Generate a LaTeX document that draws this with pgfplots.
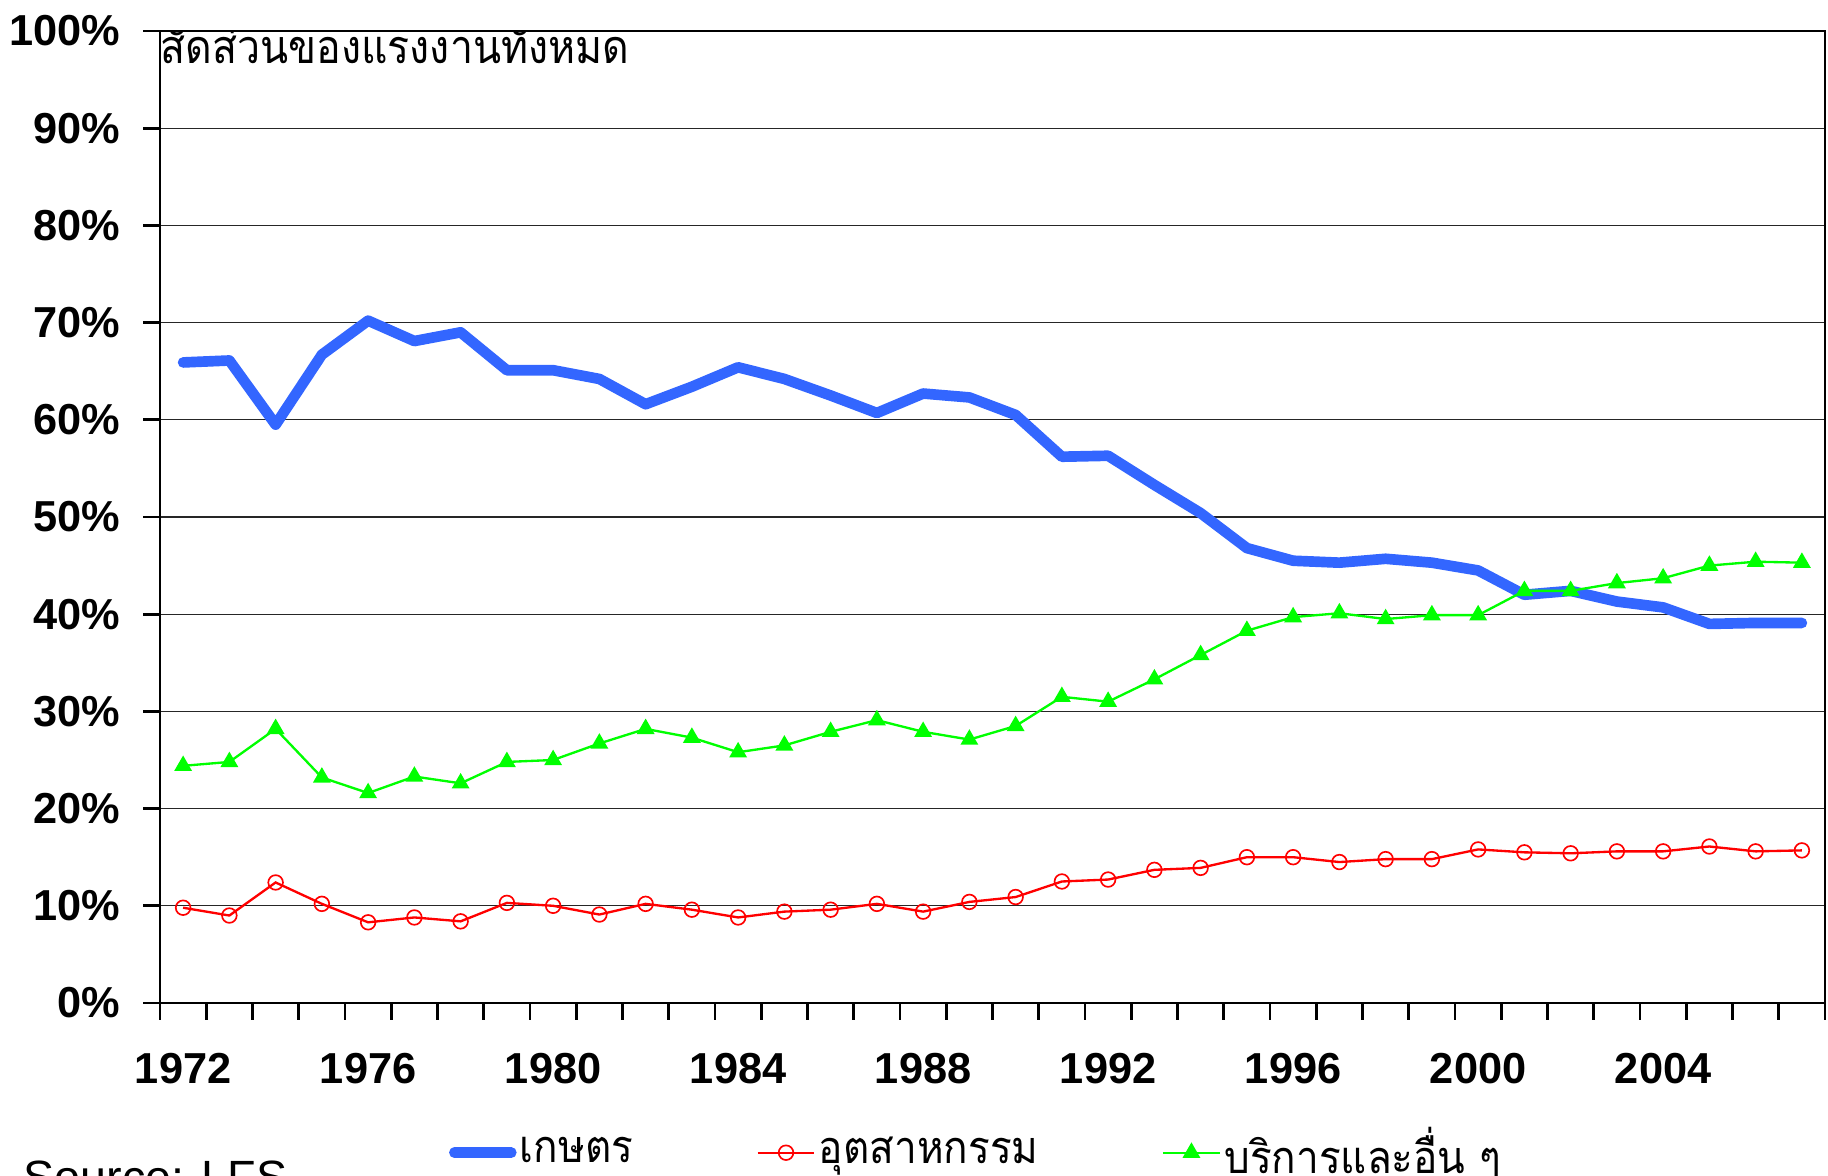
\documentclass[border=0pt]{standalone}
\usepackage{pgfplots}
\pgfplotsset{compat=1.18}
\usepackage{pgfplotstable}
\usepackage{fontspec}
\setmainfont{Liberation Sans}
\newfontfamily\thaifont[Script=Thai]{Loma}
\definecolor{agblue}{RGB}{51,102,255}
\definecolor{indred}{RGB}{255,0,0}
\definecolor{srvgreen}{RGB}{0,255,0}
\newcommand{\thn}[1]{\scalebox{0.9}[1]{#1}}
\pgfplotstableread{
year agr ind srv
1972 65.9 9.8 24.4
1973 66.1 9.0 24.8
1974 59.5 12.4 28.2
1975 66.7 10.2 23.2
1976 70.2 8.3 21.6
1977 68.1 8.8 23.3
1978 69.0 8.4 22.6
1979 65.1 10.3 24.8
1980 65.1 10.0 25.0
1981 64.2 9.1 26.7
1982 61.6 10.2 28.2
1983 63.4 9.6 27.3
1984 65.4 8.8 25.8
1985 64.2 9.4 26.5
1986 62.5 9.6 27.9
1987 60.7 10.2 29.1
1988 62.7 9.4 27.9
1989 62.3 10.4 27.1
1990 60.5 10.9 28.5
1991 56.2 12.5 31.5
1992 56.3 12.7 31.0
1993 53.3 13.7 33.3
1994 50.4 13.9 35.8
1995 46.8 15.0 38.3
1996 45.5 15.0 39.7
1997 45.3 14.5 40.1
1998 45.7 14.8 39.5
1999 45.3 14.8 39.9
2000 44.5 15.8 39.9
2001 42.0 15.5 42.4
2002 42.4 15.4 42.4
2003 41.3 15.6 43.2
2004 40.7 15.6 43.7
2005 39.0 16.1 45.0
2006 39.1 15.6 45.4
2007 39.1 15.7 45.3
}\datatable
\begin{document}
\begin{tikzpicture}
\path[use as bounding box] (-48pt,-51.9pt) rectangle (500.4pt,300.9pt);
\begin{axis}[
  at={(0,0)}, anchor=south west,
  scale only axis, width=499.5pt, height=291.6pt,
  xmin=1971.5, xmax=2007.5, ymin=0, ymax=100,
  xtick={1971.5,1972.5,...,2007.5}, xticklabels={},
  extra x ticks={1972,1976,...,2004},
  extra x tick labels={1972,1976,1980,1984,1988,1992,1996,2000,2004},
  extra x tick style={major tick length=0pt, grid=none,
     xticklabel style={yshift=-11.5pt}},
  ytick={0,10,...,100},
  yticklabel={\pgfmathprintnumber{\tick}\%},
  tick align=outside, tick pos=left,
  major tick length=5pt,
  x tick label style={font=\fontsize{13}{13}\selectfont\bfseries},
  y tick label style={font=\fontsize{13}{13}\selectfont\bfseries, xshift=-3.5pt},
  /pgf/number format/assume math mode=true,
  /pgf/number format/1000 sep={},
  ymajorgrids, major grid style={black!85, line width=0.4pt},
  axis line style={black, line width=0.6pt},
  tick style={black, line width=0.8pt},
  legend columns=3,
  legend style={at={(0.4905,-0.154)}, anchor=center, draw=none, fill=none,
     font=\thaifont\fontsize{13.5}{13.5}\selectfont,
     /tikz/every even column/.append style={column sep=36pt},
     nodes={inner xsep=1pt},
     inner sep=0pt},
  legend cell align=left,
]
\addplot[agblue, line width=3.2pt, line join=round, line cap=round] table[x=year,y=agr]{\datatable};
\addlegendentry{\thn{เกษตร}}
\addplot[indred, line width=0.7pt, mark=o, mark size=2.2pt, mark options={line width=0.5pt}] table[x=year,y=ind]{\datatable};
\addlegendentry{\thn{อุตสาหกรรม}}
\addplot[srvgreen, line width=0.7pt, mark=triangle*, mark size=2.4pt] table[x=year,y=srv]{\datatable};
\addlegendentry{\thn{บริการและอื่น ๆ}}
\node[anchor=base west, inner sep=0pt, yshift=-9.8pt, font=\thaifont\fontsize{14}{14}\selectfont] at (rel axis cs:0,1) {\scalebox{0.88}[1]{สัดส่วนของแรงงานทั้งหมด}};
\end{axis}
\node[anchor=north west, inner sep=0pt, font=\fontsize{14}{14}\selectfont] at (-41.1pt,-47.1pt) {Source: LFS};
\end{tikzpicture}
\end{document}
